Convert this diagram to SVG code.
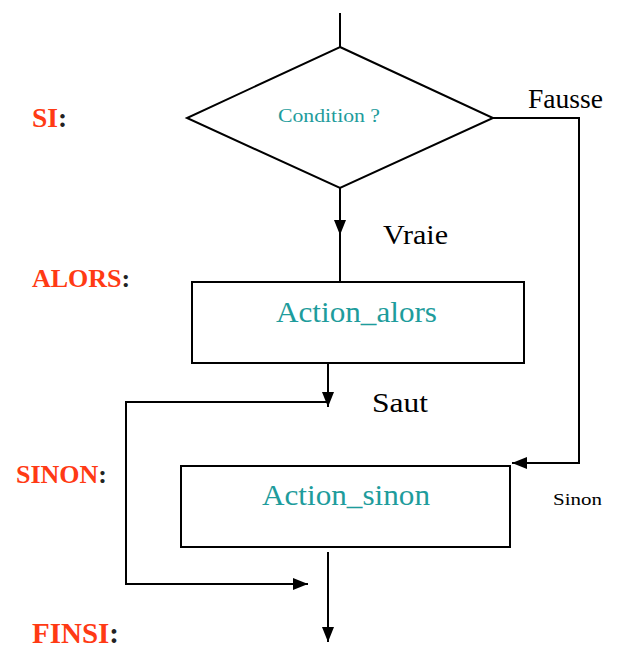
<svg xmlns="http://www.w3.org/2000/svg" width="618" height="650" viewBox="0 0 618 650">
  <style>
    .shape { fill: #ffffff; stroke: #000000; stroke-width: 2; }
    .wire { fill: none; stroke: #000000; stroke-width: 2; }
    text { font-family: "Liberation Serif", "DejaVu Serif", "Times New Roman", serif; }
    .act { fill: #1e9c9c; }
    .lbl { fill: #000000; }
    .kw { font-weight: bold; fill: #ff3a14; }
    .colon { fill: #222222; }
  </style>
  <defs>
    <marker id="arrow" markerUnits="userSpaceOnUse" markerWidth="15" markerHeight="12" refX="15" refY="6" orient="auto">
      <path d="M0,0 L15,6 L0,12 z" fill="#000000"/>
    </marker>
  </defs>

  <rect width="618" height="650" fill="#ffffff"/>

  <!-- section keywords -->
  <g id="keywords">
    <text class="kw" x="32" y="127" font-size="27.5">SI<tspan class="colon">:</tspan></text>
    <text class="kw" x="32" y="287" font-size="26">ALORS<tspan class="colon">:</tspan></text>
    <text class="kw" x="16" y="483" font-size="26">SINON<tspan class="colon">:</tspan></text>
    <text class="kw" x="32" y="643" font-size="29">FINSI<tspan class="colon">:</tspan></text>
  </g>

  <!-- connectors -->
  <g id="connectors">
    <path class="wire" d="M340,13 V47"/>
    <path class="wire" d="M340,188 V235" marker-end="url(#arrow)"/>
    <path class="wire" d="M340,233 V282"/>
    <path class="wire" d="M493,118 H579 V463 H512" marker-end="url(#arrow)"/>
    <path class="wire" d="M328,355 V407" marker-end="url(#arrow)"/>
    <path class="wire" d="M328,402 H126 V584 H308" marker-end="url(#arrow)"/>
    <path class="wire" d="M328,552 V642" marker-end="url(#arrow)"/>
    <text class="lbl" x="528" y="108" font-size="28" textLength="75" lengthAdjust="spacingAndGlyphs">Fausse</text>
    <text class="lbl" x="383" y="244" font-size="28" textLength="65" lengthAdjust="spacingAndGlyphs">Vraie</text>
    <text class="lbl" x="372" y="412" font-size="28" textLength="56" lengthAdjust="spacingAndGlyphs">Saut</text>
    <text class="lbl" x="553" y="505" font-size="17" textLength="49" lengthAdjust="spacingAndGlyphs">Sinon</text>
  </g>

  <!-- decision -->
  <g id="condition">
    <polygon class="shape" points="340,47 493,118 340,188 187,118"/>
    <text class="act" x="278" y="122" font-size="19" textLength="102" lengthAdjust="spacingAndGlyphs">Condition ?</text>
  </g>

  <!-- then branch -->
  <g id="action-alors">
    <rect class="shape" x="192" y="282" width="332" height="81"/>
    <text class="act" x="276" y="322" font-size="30" textLength="161" lengthAdjust="spacingAndGlyphs">Action_alors</text>
  </g>

  <!-- else branch -->
  <g id="action-sinon">
    <rect class="shape" x="181" y="466" width="329" height="81"/>
    <text class="act" x="262" y="505" font-size="30" textLength="168" lengthAdjust="spacingAndGlyphs">Action_sinon</text>
  </g>
</svg>
